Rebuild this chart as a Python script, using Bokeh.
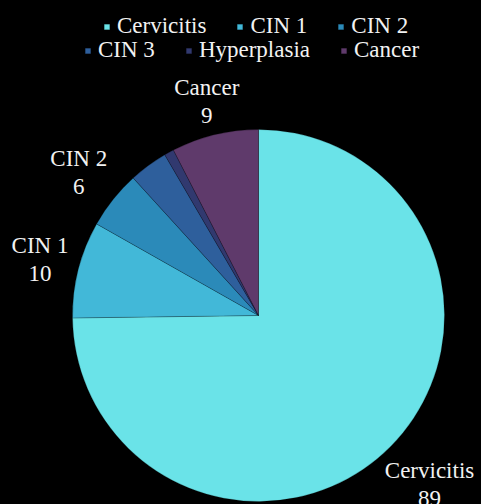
import numpy as np
from bokeh.plotting import figure
from bokeh.models import Range1d, Legend, LegendItem, ColumnDataSource
from bokeh.embed import file_html
from bokeh.resources import INLINE

categories = ["Cervicitis", "CIN 1", "CIN 2", "CIN 3", "Hyperplasia", "Cancer"]
counts = [89, 10, 6, 4, 1, 9]
colors = ["#6ae3e8", "#42b8d8", "#2b8ab9", "#2e5f9c", "#31396f", "#5f3a6b"]
show_label = [True, True, True, False, False, True]

W, H = 481, 504
cx, cy, R = 258, 189, 186
FONT = "Liberation Serif"
FSIZE = "23px"
FPX = 23.0

total = float(sum(counts))
frac = np.array(counts) / total
cum = np.concatenate([[0.0], np.cumsum(frac)])
start = np.pi / 2 - cum[:-1] * 2 * np.pi
end = np.pi / 2 - cum[1:] * 2 * np.pi
mid = (start + end) / 2

src = ColumnDataSource(dict(
    x=[cx] * len(counts), y=[cy] * len(counts),
    start=start, end=end, color=colors, name=categories,
))

p = figure(width=W, height=H, x_range=Range1d(0, W), y_range=Range1d(0, H),
           output_backend="svg", toolbar_location=None, min_border=0,
           background_fill_color="black", border_fill_color="black",
           outline_line_color=None)
p.axis.visible = False
p.grid.visible = False

r = p.wedge(x="x", y="y", radius=R, start_angle="start", end_angle="end",
            direction="clock", fill_color="color", line_color="black",
            line_alpha=0.25, line_width=0.8, source=src)


def text_width(s):
    w = 0.0
    for ch in s:
        if ch.isupper():
            w += 0.65
        elif ch.isdigit():
            w += 0.5
        elif ch == " ":
            w += 0.25
        else:
            w += 0.38
    return w * FPX


def nearest_dist(d, dx, dy, hw, hh):
    bx, by = d * dx, d * dy
    nx = bx - hw if bx - hw > 0 else (bx + hw if bx + hw < 0 else 0.0)
    ny = by - hh if by - hh > 0 else (by + hh if by + hh < 0 else 0.0)
    return np.hypot(nx, ny)


lx, ly, lt = [], [], []
for i, (name, v) in enumerate(zip(categories, counts)):
    if not show_label[i]:
        continue
    dx, dy = np.cos(mid[i]), np.sin(mid[i])
    hw = max(text_width(name), text_width(str(v))) / 2
    hh = 25.0
    lo, hi = R * 0.5, R * 2.0
    for _ in range(60):
        m = (lo + hi) / 2
        if nearest_dist(m, dx, dy, hw, hh) < R + 4:
            lo = m
        else:
            hi = m
    d = (lo + hi) / 2
    lx.append(cx + d * dx)
    ly.append(cy + d * dy)
    lt.append(f"{name}\n{v}")

p.text(x=lx, y=ly, text=lt, text_align="center", text_baseline="middle",
       text_font={"value": FONT}, text_font_size=FSIZE, text_color="#f2f2f2",
       text_line_height=1.12)

def make_legend(idx, loc):
    items = [LegendItem(label=categories[i], renderers=[r], index=i) for i in idx]
    lg = Legend(items=items, orientation="horizontal", location=loc,
                glyph_width=7, glyph_height=7, label_standoff=7, spacing=30,
                padding=0, margin=0, border_line_alpha=0,
                background_fill_alpha=0, label_text_font=FONT,
                label_text_font_size=FSIZE, label_text_color="#f2f2f2")
    p.add_layout(lg, "center")

make_legend([0, 1, 2], (103, 465))
make_legend([3, 4, 5], (84, 441))

html = file_html(p, INLINE)
html = html.replace("<head>", "<head><style>html,body{background:#000;}</style>", 1)
open("out.html", "w").write(html)
